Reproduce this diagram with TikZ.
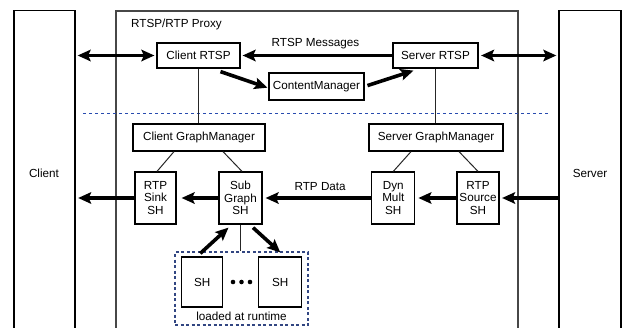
\documentclass[tikz,border=0pt]{standalone}
\usepackage{fontspec}
\setmainfont{Liberation Sans}
\usetikzlibrary{arrows.meta,calc}

\tikzset{
  x=1pt, y=-1pt,
  every node/.style={font=\fontsize{11.7}{12.6}\selectfont, align=center, inner sep=0pt},
  box/.style={draw=black, line width=1.2pt, fill=white},
  outer/.style={draw=black, line width=1.3pt},
  proxybox/.style={draw=black!72, line width=1.5pt},
  thin/.style={draw=black!85, line width=1pt},
  tip/.tip={Stealth[length=13pt,width=11.5pt,inset=2.5pt]},
  fat/.style={line width=3.6pt, -tip},
  fatboth/.style={line width=3.6pt, tip-tip},
  sep/.style={draw={rgb,255:red,40;green,75;blue,175}, line width=0.9pt, dash pattern=on 3pt off 3pt},
}

\begin{document}
\begin{tikzpicture}
\useasboundingbox (0,0) rectangle (627,327);
\clip (0,0) rectangle (627,327);

% outer columns: client, proxy, server (they run past the bottom edge)
\node[outer, minimum width=61, minimum height=340, anchor=north] (client) at (44.5,10) {};
\node at (44,173) {Client};
\node[proxybox, minimum width=402, minimum height=340, anchor=north] (proxy) at (317,10) {};
\node[anchor=west] (proxylbl) at (131,24) {RTSP/RTP Proxy};
\node[outer, minimum width=62, minimum height=340, anchor=north] (server) at (590,10) {};
\node at (590,173) {Server};

% control plane / data plane separator
\draw[sep] (83,113) -- (548,113);

% RTSP layer
\node[box, minimum width=83, minimum height=25] (crtsp) at (198.5,55.5) {Client RTSP};
\node[box, minimum width=85, minimum height=25] (srtsp) at (435.5,55.5) {Server RTSP};
\node[box, minimum width=95, minimum height=27] (cm) at (316.5,86.5) {ContentManager};

% graph managers
\node[box, minimum width=132, minimum height=27] (cgm) at (199,137.5) {Client GraphManager};
\node[box, minimum width=134, minimum height=27] (sgm) at (436,137.5) {Server GraphManager};

% stream handlers
\node[box, minimum width=41, minimum height=52] (sink) at (155.5,198) {RTP\\Sink\\SH};
\node[box, minimum width=43, minimum height=52] (subg) at (240.5,198) {Sub\\Graph\\SH};
\node[box, minimum width=43, minimum height=52] (dyn) at (393.3,198) {Dyn\\Mult\\SH};
\node[box, minimum width=42, minimum height=52] (src) at (478,198) {RTP\\Source\\SH};

% handlers loaded at runtime
\node[draw={rgb,255:red,50;green,70;blue,130}, line width=1.1pt, dash pattern=on 3pt off 2.5pt, minimum width=133, minimum height=73] (ldbox) at (241.5,288.5) {};
\node[box, minimum width=41, minimum height=50] (sh1) at (202.3,282) {SH};
\node[box, minimum width=43, minimum height=50] (sh2) at (280.3,282) {SH};
\foreach \dx [count=\i] in {233,241.5,250}
  \fill (\dx,282) circle (2.3pt) coordinate (dot\i);
\node (ldlbl) at (241.5,316) {loaded at runtime};

% tree links
\draw[thin] (crtsp.south) -- (cgm.north -| crtsp.south);
\draw[thin] (srtsp.south) -- (sgm.north -| srtsp.south);
\draw[thin] ([xshift=-25]cgm.south) -- ([xshift=1.5]sink.north);
\draw[thin] ([xshift=24]cgm.south) -- ([xshift=1.5]subg.north);
\draw[thin] ([xshift=-25]sgm.south) -- (dyn.north);
\draw[thin] ([xshift=23]sgm.south) -- (src.north);
\draw[thin] (subg.south) -- (subg.south |- ldbox.north);

% RTSP message flow
\draw[fatboth, shorten <=2pt, shorten >=2pt] (client.east |- crtsp.west) -- (crtsp.west);
\draw[fat, shorten <=0pt, shorten >=2pt] (srtsp.west) -- (crtsp.east)
  node[midway, above=5pt, xshift=-1pt] (msglbl) {RTSP Messages};
\draw[fatboth, shorten <=2.5pt, shorten >=2pt] (srtsp.east) -- (server.west |- srtsp.east);
\draw[fat, shorten >=1pt] ([xshift=22,yshift=-3]crtsp.south) -- ([yshift=-1.5]cm.west);
\draw[fat, shorten <=3pt] (cm.east) -- ([xshift=-22,yshift=-2]srtsp.south);

% RTP data flow
\draw[fat, shorten >=2.5pt] (server.west |- src.east) -- (src.east);
\draw[fat, shorten >=3pt] (src.west) -- (dyn.east);
\draw[fat, shorten >=3pt] (dyn.west) -- (subg.east)
  node[pos=0.47, above=6pt] (datalbl) {RTP Data};
\draw[fat, shorten >=5pt] (subg.west) -- (sink.east);
\draw[fat, shorten >=2.5pt] (sink.west) -- (client.east |- sink.west);

% runtime handler links
\draw[fat] ([xshift=-2,yshift=3]sh1.north) -- ([xshift=-12,yshift=-3]subg.south);
\draw[fat] ([xshift=12.5,yshift=-3]subg.south) -- ([yshift=4]sh2.north);
\end{tikzpicture}
\end{document}
